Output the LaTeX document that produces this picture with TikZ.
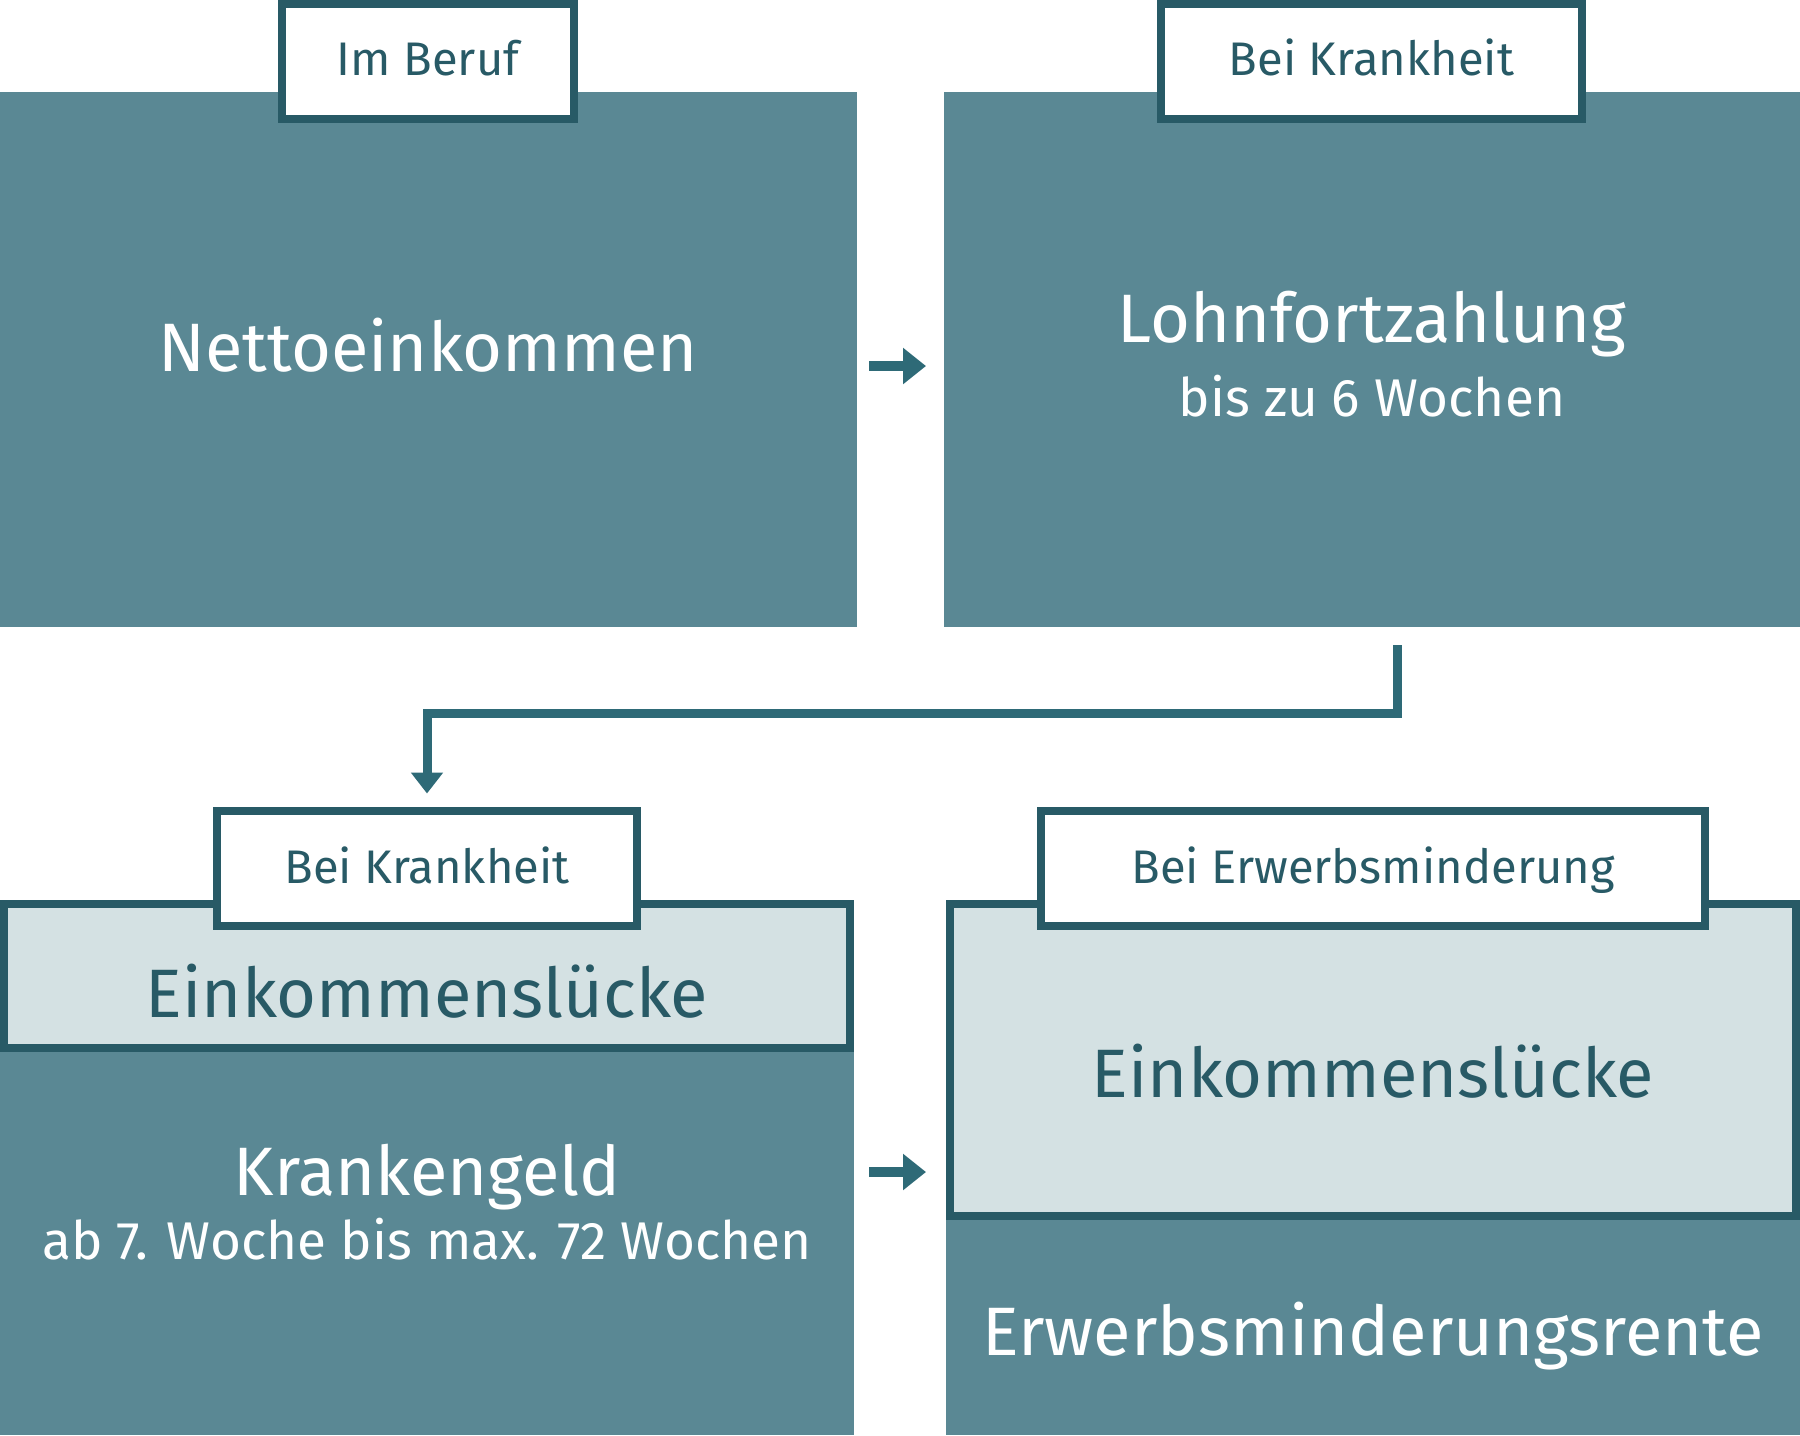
\documentclass[tikz,border=0pt]{standalone}
\usepackage{fontspec}
\setmainfont{Fira Sans}
\usetikzlibrary{arrows.meta,calc}
\definecolor{petrol}{HTML}{5A8894}
\definecolor{tinte}{HTML}{285A66}
\definecolor{hell}{HTML}{D4E1E3}
\definecolor{pfeil}{HTML}{2E6A77}
\tikzset{
  dunkel/.style={fill=petrol, inner sep=0pt, outer sep=0pt, anchor=north west},
  luecke/.style={fill=hell, draw=tinte, line width=0.8mm, inner sep=0pt, outer sep=0pt},
  etikett/.style={fill=white, draw=tinte, line width=0.8mm, inner sep=0pt, outer sep=0pt, minimum height=11.5mm},
  klein/.style={text=tinte, anchor=base, font=\fontsize{13.4}{16}\selectfont},
  gross/.style={anchor=base, font=\fontsize{19.5}{23}\selectfont},
  mittel/.style={anchor=base, font=\fontsize{15.1}{18}\selectfont},
  weiter/.style={draw=pfeil, line width=1mm, -{Triangle[length=2.3mm, width=3.5mm]}},
  knick/.style={draw=pfeil, line width=0.9mm, -{Triangle[length=2.1mm, width=3.1mm]}}
}
\begin{document}
\begin{tikzpicture}[x=0.1mm, y=-0.1mm]
\useasboundingbox (0,0) rectangle (1800,1435);
% obere Reihe
\node [dunkel, minimum width=85.7mm, minimum height=53.5mm] (netto) at (0,92) {};
\node [dunkel, minimum width=85.6mm, minimum height=53.5mm] (lohn) at (944,92) {};
\node [etikett, minimum width=29.2mm] (beruf) at (428,61.5) {};
\node [etikett, minimum width=42.1mm] (krank) at (1371.5,61.5) {};
\node [klein] at (428,75) {Im Beruf};
\node [klein] at (1371.5,75) {Bei Krankheit};
\node [gross, text=white] (nettotext) at (428,371) {Nettoeinkommen};
\node [gross, text=white] (lohntext) at (1372,342) {Lohnfortzahlung};
\node [mittel, text=white] at (1372,416) {bis zu 6 Wochen};
% untere Reihe
\node [dunkel, minimum width=85.4mm, minimum height=38.3mm] (kgeld) at (0,1052) {};
\node [dunkel, minimum width=85.4mm, minimum height=21.5mm] (rente) at (946,1220) {};
\node [luecke, minimum width=84.6mm, minimum height=14.4mm, anchor=north west] (luecke1) at (4,904) {};
\node [luecke, minimum width=84.6mm, minimum height=31.2mm, anchor=north west] (luecke2) at (950,904) {};
\node [etikett, minimum width=42.0mm] (krank2) at (427,868) {};
\node [etikett, minimum width=66.4mm] (erwerb) at (1373,868) {};
\node [klein] at (427,883) {Bei Krankheit};
\node [klein] at (1373,883) {Bei Erwerbsminderung};
\node [gross, text=tinte] at (427,1017) {Einkommenslücke};
\node [gross, text=tinte] at (1373,1097) {Einkommenslücke};
\node [gross, text=white] at (427,1195) {Krankengeld};
\node [mittel, text=white] at (427,1259) {ab 7. Woche bis max. 72 Wochen};
\node [gross, text=white] at (1373,1355) {Erwerbsminderungsrente};
% Pfeile
\draw [weiter] ($(netto.north east)+(12,274)$) -- ($(lohn.north west)+(-18,274)$);
\draw [weiter] ($(kgeld.north east)+(15,120)$) -- ($(luecke2.west |- kgeld.north east)+(-24,120)$);
\draw [knick] ($(lohn.south)+(25,18)$) |- ($(krank2.north)+(0,-97)$) -- ($(krank2.north)+(0,-17)$);
\end{tikzpicture}
\end{document}
